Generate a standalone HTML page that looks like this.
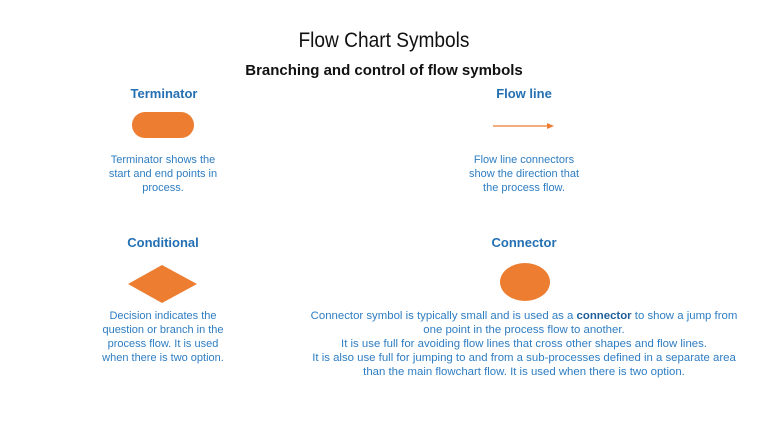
<!DOCTYPE html>
<html><head><style>
body{margin:0;width:768px;height:432px;background:#fff;position:relative;font-family:"Liberation Sans",sans-serif;overflow:hidden}
.t{position:absolute;white-space:nowrap;transform:translateX(-50%);text-align:center}
.h{font-weight:bold;font-size:13px;color:#2470b3}
.p{font-size:11px;line-height:14px;color:#2e7dc2}
</style></head><body>
<div class="t" style="left:384px;top:29px;font-size:21px;color:#111;transform:translateX(-50%) scaleX(0.91)">Flow Chart Symbols</div>
<div class="t" style="left:384px;top:62px;font-size:15px;font-weight:bold;color:#111">Branching and control of flow symbols</div>
<div class="t h" style="left:164px;top:86px">Terminator</div>
<div class="t h" style="left:524px;top:86px">Flow line</div>
<div class="t h" style="left:163px;top:235px">Conditional</div>
<div class="t h" style="left:524px;top:235px">Connector</div>
<svg style="position:absolute;left:0;top:0" width="768" height="432">
<rect x="132" y="112" width="62" height="26" rx="13" fill="#ed7d31"/>
<line x1="493" y1="126" x2="551" y2="126" stroke="#ed7d31" stroke-width="1.2"/>
<polygon points="554,126 547,123 547,129" fill="#ed7d31"/>
<polygon points="128,284 162,265 197,284 162,303" fill="#ed7d31"/>
<ellipse cx="525" cy="282" rx="25" ry="19" fill="#ed7d31"/>
</svg>
<div class="t p" style="left:163px;top:153px">Terminator shows the<br>start and end points in<br>process.</div>
<div class="t p" style="left:524px;top:153px">Flow line connectors<br>show the direction that<br>the process flow.</div>
<div class="t p" style="left:163px;top:309px">Decision indicates the<br>question or branch in the<br>process flow. It is used<br>when there is two option.</div>
<div class="t p" style="left:524px;top:309px;font-size:11.4px">Connector symbol is typically small and is used as a <b style="color:#1f5f99">connector</b> to show a jump from<br>one point in the process flow to another.<br>It is use full for avoiding flow lines that cross other shapes and flow lines.<br>It is also use full for jumping to and from a sub-processes defined in a separate area<br>than the main flowchart flow. It is used when there is two option.</div>
</body></html>
